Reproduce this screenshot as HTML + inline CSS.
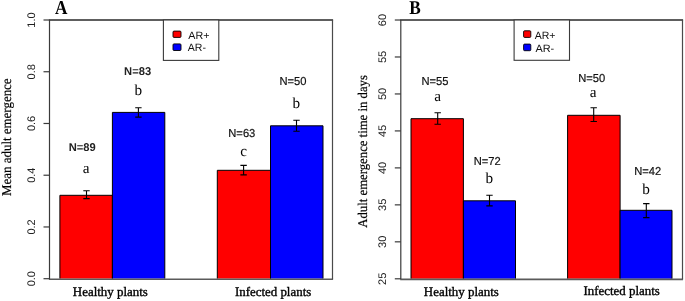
<!DOCTYPE html>
<html><head><meta charset="utf-8"><style>
html,body{margin:0;padding:0;background:#fff;}
svg{display:block;will-change:transform;}
</style></head><body>
<svg width="685" height="301" viewBox="0 0 685 301" text-rendering="geometricPrecision">
<rect width="685" height="301" fill="#fff"/>
<rect x="59.9" y="195.3" width="52.5" height="83.3" fill="#ff0000"/>
<path d="M59.9 278.6V195.3H112.4V278.6" fill="none" stroke="#000" stroke-width="1"/>
<rect x="112.4" y="112.4" width="52.4" height="166.2" fill="#0000ff"/>
<path d="M112.4 278.6V112.4H164.8V278.6" fill="none" stroke="#000" stroke-width="1"/>
<rect x="217.3" y="170.3" width="53.2" height="108.3" fill="#ff0000"/>
<path d="M217.3 278.6V170.3H270.5V278.6" fill="none" stroke="#000" stroke-width="1"/>
<rect x="270.5" y="125.8" width="52.5" height="152.8" fill="#0000ff"/>
<path d="M270.5 278.6V125.8H323.0V278.6" fill="none" stroke="#000" stroke-width="1"/>
<path d="M48.9 279.3H333.1" stroke="#5a5a5a" stroke-width="1.6" fill="none"/>
<path d="M86.5 190.7V198.6M83.3 190.7H89.7M83.3 198.6H89.7" stroke="#000" stroke-width="1.1" fill="none"/>
<path d="M138.4 107.8V117.1M135.2 107.8H141.6M135.2 117.1H141.6" stroke="#000" stroke-width="1.1" fill="none"/>
<path d="M243.6 165.4V174.9M240.4 165.4H246.8M240.4 174.9H246.8" stroke="#000" stroke-width="1.1" fill="none"/>
<path d="M296.5 120.2V131.3M293.3 120.2H299.7M293.3 131.3H299.7" stroke="#000" stroke-width="1.1" fill="none"/>
<path d="M48.9 20H333.1" stroke="#5e5e5e" stroke-width="2" fill="none"/>
<path d="M49.5 20V279.0" stroke="#3a3a3a" stroke-width="1.2" fill="none"/>
<path d="M332.5 20V279.0" stroke="#4a4a4a" stroke-width="1.2" fill="none"/>
<path d="M43.5 278.7H49.5" stroke="#3a3a3a" stroke-width="1.2"/>
<text transform="translate(35.3 278.7) rotate(-90)" text-anchor="middle" font-family='"Liberation Sans", sans-serif' font-size="11" fill="#222">0.0</text>
<path d="M43.5 226.96H49.5" stroke="#3a3a3a" stroke-width="1.2"/>
<text transform="translate(35.3 226.96) rotate(-90)" text-anchor="middle" font-family='"Liberation Sans", sans-serif' font-size="11" fill="#222">0.2</text>
<path d="M43.5 175.22H49.5" stroke="#3a3a3a" stroke-width="1.2"/>
<text transform="translate(35.3 175.22) rotate(-90)" text-anchor="middle" font-family='"Liberation Sans", sans-serif' font-size="11" fill="#222">0.4</text>
<path d="M43.5 123.48H49.5" stroke="#3a3a3a" stroke-width="1.2"/>
<text transform="translate(35.3 123.48) rotate(-90)" text-anchor="middle" font-family='"Liberation Sans", sans-serif' font-size="11" fill="#222">0.6</text>
<path d="M43.5 71.74H49.5" stroke="#3a3a3a" stroke-width="1.2"/>
<text transform="translate(35.3 71.74) rotate(-90)" text-anchor="middle" font-family='"Liberation Sans", sans-serif' font-size="11" fill="#222">0.8</text>
<path d="M43.5 20.0H49.5" stroke="#3a3a3a" stroke-width="1.2"/>
<text transform="translate(35.3 20.0) rotate(-90)" text-anchor="middle" font-family='"Liberation Sans", sans-serif' font-size="11" fill="#222">1.0</text>
<rect x="163.4" y="20" width="55.4" height="40.4" fill="#fff" stroke="#3a3a3a" stroke-width="1.1"/>
<rect x="173.0" y="31.1" width="8.0" height="6.3" fill="#ff0000" rx="1" stroke="#000" stroke-width="0.9"/>
<text x="188.3" y="38.6" font-family='"Liberation Sans", sans-serif' font-size="10.6" textLength="21.2" lengthAdjust="spacingAndGlyphs" fill="#111">AR+</text>
<rect x="173.0" y="43.9" width="8.0" height="6.6" fill="#0000ff" rx="1" stroke="#000" stroke-width="0.9"/>
<text x="187.8" y="51.3" font-family='"Liberation Sans", sans-serif' font-size="10.6" textLength="18.2" lengthAdjust="spacingAndGlyphs" fill="#111">AR-</text>
<text transform="translate(55 14.1) scale(0.97 1.1)" font-family='"Liberation Serif", serif' font-weight="bold" font-size="17.8" fill="#000">A</text>
<text x="82.2" y="150.8" text-anchor="middle" font-family='"Liberation Sans", sans-serif' font-weight="bold" font-size="11.3" textLength="27" lengthAdjust="spacingAndGlyphs" fill="#222">N=89</text>
<text x="137.6" y="74.6" text-anchor="middle" font-family='"Liberation Sans", sans-serif' font-weight="bold" font-size="11.3" textLength="27" lengthAdjust="spacingAndGlyphs" fill="#222">N=83</text>
<text x="241.8" y="136.5" text-anchor="middle" font-family='"Liberation Sans", sans-serif' font-size="11.5" textLength="27" lengthAdjust="spacingAndGlyphs" fill="#111" stroke="#111" stroke-width="0.2">N=63</text>
<text x="293.0" y="84.9" text-anchor="middle" font-family='"Liberation Sans", sans-serif' font-size="11.5" textLength="27" lengthAdjust="spacingAndGlyphs" fill="#111" stroke="#111" stroke-width="0.2">N=50</text>
<text x="86.0" y="173.2" text-anchor="middle" font-family='"Liberation Serif", serif' font-size="15.2" fill="#000">a</text>
<text x="138.2" y="95.4" text-anchor="middle" font-family='"Liberation Serif", serif' font-size="15.2" fill="#000">b</text>
<text x="243.5" y="155.5" text-anchor="middle" font-family='"Liberation Serif", serif' font-size="15.2" fill="#000">c</text>
<text x="296.4" y="108.2" text-anchor="middle" font-family='"Liberation Serif", serif' font-size="15.2" fill="#000">b</text>
<text x="110.35" y="295.6" text-anchor="middle" font-family='"Liberation Serif", serif' font-size="13.0" textLength="75.0" lengthAdjust="spacingAndGlyphs" fill="#000" stroke="#000" stroke-width="0.35">Healthy plants</text>
<text x="273.1" y="295.5" text-anchor="middle" font-family='"Liberation Serif", serif' font-size="13.0" textLength="76.3" lengthAdjust="spacingAndGlyphs" fill="#000" stroke="#000" stroke-width="0.35">Infected plants</text>
<text transform="translate(11 137.2) rotate(-90)" text-anchor="middle" font-family='"Liberation Serif", serif' font-size="13.5" textLength="117.6" lengthAdjust="spacingAndGlyphs" fill="#000" stroke="#000" stroke-width="0.2">Mean adult emergence</text>
<rect x="411.0" y="118.7" width="52.4" height="160" fill="#ff0000"/>
<path d="M411.0 278.7V118.7H463.4V278.7" fill="none" stroke="#000" stroke-width="1"/>
<rect x="463.4" y="200.8" width="52.1" height="77.9" fill="#0000ff"/>
<path d="M463.4 278.7V200.8H515.5V278.7" fill="none" stroke="#000" stroke-width="1"/>
<rect x="567.6" y="115.3" width="52.5" height="163.4" fill="#ff0000"/>
<path d="M567.6 278.7V115.3H620.1V278.7" fill="none" stroke="#000" stroke-width="1"/>
<rect x="620.1" y="210.3" width="51.9" height="68.4" fill="#0000ff"/>
<path d="M620.1 278.7V210.3H672.0V278.7" fill="none" stroke="#000" stroke-width="1"/>
<path d="M400.2 279.4H683.1" stroke="#5a5a5a" stroke-width="1.6" fill="none"/>
<path d="M437.7 112.7V124.2M434.5 112.7H440.9M434.5 124.2H440.9" stroke="#000" stroke-width="1.1" fill="none"/>
<path d="M489.5 195.2V205.9M486.3 195.2H492.7M486.3 205.9H492.7" stroke="#000" stroke-width="1.1" fill="none"/>
<path d="M593.7 107.8V121.5M590.5 107.8H596.9M590.5 121.5H596.9" stroke="#000" stroke-width="1.1" fill="none"/>
<path d="M646.3 203.6V217.6M643.1 203.6H649.5M643.1 217.6H649.5" stroke="#000" stroke-width="1.1" fill="none"/>
<path d="M400.2 20H683.1" stroke="#5e5e5e" stroke-width="2" fill="none"/>
<path d="M400.8 20V279.1" stroke="#3a3a3a" stroke-width="1.2" fill="none"/>
<path d="M682.5 20V279.1" stroke="#4a4a4a" stroke-width="1.2" fill="none"/>
<path d="M394.8 278.8H400.8" stroke="#3a3a3a" stroke-width="1.2"/>
<text transform="translate(386.3 278.8) rotate(-90)" text-anchor="middle" font-family='"Liberation Sans", sans-serif' font-size="11" fill="#222">25</text>
<path d="M394.8 241.83H400.8" stroke="#3a3a3a" stroke-width="1.2"/>
<text transform="translate(386.3 241.83) rotate(-90)" text-anchor="middle" font-family='"Liberation Sans", sans-serif' font-size="11" fill="#222">30</text>
<path d="M394.8 204.86H400.8" stroke="#3a3a3a" stroke-width="1.2"/>
<text transform="translate(386.3 204.86) rotate(-90)" text-anchor="middle" font-family='"Liberation Sans", sans-serif' font-size="11" fill="#222">35</text>
<path d="M394.8 167.89H400.8" stroke="#3a3a3a" stroke-width="1.2"/>
<text transform="translate(386.3 167.89) rotate(-90)" text-anchor="middle" font-family='"Liberation Sans", sans-serif' font-size="11" fill="#222">40</text>
<path d="M394.8 130.92H400.8" stroke="#3a3a3a" stroke-width="1.2"/>
<text transform="translate(386.3 130.92) rotate(-90)" text-anchor="middle" font-family='"Liberation Sans", sans-serif' font-size="11" fill="#222">45</text>
<path d="M394.8 93.95H400.8" stroke="#3a3a3a" stroke-width="1.2"/>
<text transform="translate(386.3 93.95) rotate(-90)" text-anchor="middle" font-family='"Liberation Sans", sans-serif' font-size="11" fill="#222">50</text>
<path d="M394.8 56.98H400.8" stroke="#3a3a3a" stroke-width="1.2"/>
<text transform="translate(386.3 56.98) rotate(-90)" text-anchor="middle" font-family='"Liberation Sans", sans-serif' font-size="11" fill="#222">55</text>
<path d="M394.8 20.01H400.8" stroke="#3a3a3a" stroke-width="1.2"/>
<text transform="translate(386.3 20.01) rotate(-90)" text-anchor="middle" font-family='"Liberation Sans", sans-serif' font-size="11" fill="#222">60</text>
<rect x="514.1" y="20" width="55.4" height="40.3" fill="#fff" stroke="#3a3a3a" stroke-width="1.1"/>
<rect x="523.6" y="30.8" width="7.2" height="6.6" fill="#ff0000" rx="1" stroke="#000" stroke-width="0.9"/>
<text x="534.7" y="38.6" font-family='"Liberation Sans", sans-serif' font-size="10.6" textLength="20.8" lengthAdjust="spacingAndGlyphs" fill="#111">AR+</text>
<rect x="523.6" y="44.1" width="7.2" height="6.6" fill="#0000ff" rx="1" stroke="#000" stroke-width="0.9"/>
<text x="535.4" y="51.9" font-family='"Liberation Sans", sans-serif' font-size="10.6" textLength="18.8" lengthAdjust="spacingAndGlyphs" fill="#111">AR-</text>
<text transform="translate(409.3 13.6) scale(0.97 1.1)" font-family='"Liberation Serif", serif' font-weight="bold" font-size="17.8" fill="#000">B</text>
<text x="434.95" y="84.5" text-anchor="middle" font-family='"Liberation Sans", sans-serif' font-size="11.5" textLength="27" lengthAdjust="spacingAndGlyphs" fill="#111" stroke="#111" stroke-width="0.2">N=55</text>
<text x="487.15" y="164.6" text-anchor="middle" font-family='"Liberation Sans", sans-serif' font-size="11.5" textLength="27" lengthAdjust="spacingAndGlyphs" fill="#111" stroke="#111" stroke-width="0.2">N=72</text>
<text x="591.75" y="81.9" text-anchor="middle" font-family='"Liberation Sans", sans-serif' font-size="11.5" textLength="27" lengthAdjust="spacingAndGlyphs" fill="#111" stroke="#111" stroke-width="0.2">N=50</text>
<text x="647.65" y="175.3" text-anchor="middle" font-family='"Liberation Sans", sans-serif' font-size="11.5" textLength="27" lengthAdjust="spacingAndGlyphs" fill="#111" stroke="#111" stroke-width="0.2">N=42</text>
<text x="437.7" y="100.6" text-anchor="middle" font-family='"Liberation Serif", serif' font-size="15.2" fill="#000">a</text>
<text x="489.35" y="182.9" text-anchor="middle" font-family='"Liberation Serif", serif' font-size="15.2" fill="#000">b</text>
<text x="593.0" y="96.6" text-anchor="middle" font-family='"Liberation Serif", serif' font-size="15.2" fill="#000">a</text>
<text x="646.0" y="193.8" text-anchor="middle" font-family='"Liberation Serif", serif' font-size="15.2" fill="#000">b</text>
<text x="461.35" y="296.2" text-anchor="middle" font-family='"Liberation Serif", serif' font-size="13.0" textLength="75.0" lengthAdjust="spacingAndGlyphs" fill="#000" stroke="#000" stroke-width="0.35">Healthy plants</text>
<text x="621.65" y="295.2" text-anchor="middle" font-family='"Liberation Serif", serif' font-size="13.0" textLength="76.3" lengthAdjust="spacingAndGlyphs" fill="#000" stroke="#000" stroke-width="0.35">Infected plants</text>
<text transform="translate(367 151.4) rotate(-90)" text-anchor="middle" font-family='"Liberation Serif", serif' font-size="13.3" textLength="152.6" lengthAdjust="spacingAndGlyphs" fill="#000" stroke="#000" stroke-width="0.2">Adult emergence time in days</text>
</svg>
</body></html>
